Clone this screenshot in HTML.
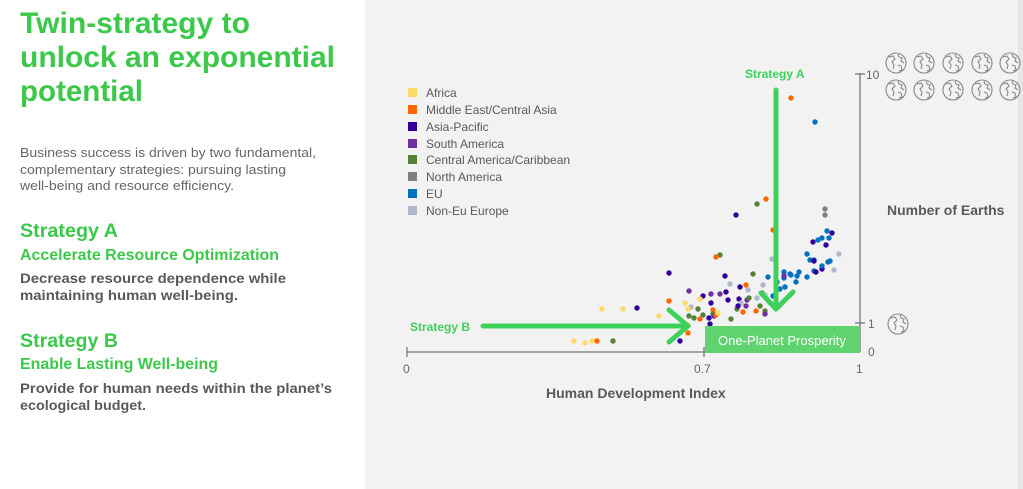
<!DOCTYPE html>
<html><head><meta charset="utf-8"><style>
html,body{margin:0;padding:0;background:#fff}
svg{display:block;font-family:"Liberation Sans",Arial,sans-serif}
</style></head><body>
<svg width="1023" height="489" viewBox="0 0 1023 489" xmlns="http://www.w3.org/2000/svg">
<rect x="0" y="0" width="1023" height="489" fill="#fff"/>
<rect x="365" y="0" width="658" height="489" fill="#f2f2f2"/>
<rect x="1018" y="0" width="5" height="489" fill="#e6e6e6"/>
<g fill="#3cc84a" font-weight="bold">
<text x="20" y="33" font-size="30" textLength="230" lengthAdjust="spacingAndGlyphs">Twin-strategy to</text>
<text x="20" y="67" font-size="30" textLength="315" lengthAdjust="spacingAndGlyphs">unlock an exponential</text>
<text x="20" y="101" font-size="30" textLength="123" lengthAdjust="spacingAndGlyphs">potential</text>
<text x="20" y="237" font-size="19" textLength="98" lengthAdjust="spacingAndGlyphs">Strategy A</text>
<text x="20" y="260" font-size="15.5" textLength="259" lengthAdjust="spacingAndGlyphs">Accelerate Resource Optimization</text>
<text x="20" y="347" font-size="19" textLength="98" lengthAdjust="spacingAndGlyphs">Strategy B</text>
<text x="20" y="369" font-size="15.5" textLength="198" lengthAdjust="spacingAndGlyphs">Enable Lasting Well-being</text>
</g>
<g fill="#666" font-size="12.5">
<text x="20" y="157" textLength="296" lengthAdjust="spacingAndGlyphs">Business success is driven by two fundamental,</text>
<text x="20" y="174" textLength="266" lengthAdjust="spacingAndGlyphs">complementary strategies: pursuing lasting</text>
<text x="20" y="190" textLength="214" lengthAdjust="spacingAndGlyphs">well-being and resource efficiency.</text>
</g>
<g fill="#595959" font-size="14" font-weight="bold">
<text x="20" y="283" textLength="266" lengthAdjust="spacingAndGlyphs">Decrease resource dependence while</text>
<text x="20" y="300" textLength="218" lengthAdjust="spacingAndGlyphs">maintaining human well-being.</text>
<text x="20" y="393" textLength="312" lengthAdjust="spacingAndGlyphs">Provide for human needs within the planet’s</text>
<text x="20" y="410" textLength="126" lengthAdjust="spacingAndGlyphs">ecological budget.</text>
</g>
<!-- legend -->
<g font-size="12" fill="#595959">
<rect x="408" y="88" width="9" height="9" fill="#ffd966"/><text x="426" y="97">Africa</text>
<rect x="408" y="105" width="9" height="9" fill="#ff6600"/><text x="426" y="114">Middle East/Central Asia</text>
<rect x="408" y="122" width="9" height="9" fill="#330099"/><text x="426" y="131">Asia-Pacific</text>
<rect x="408" y="139" width="9" height="9" fill="#7030a0"/><text x="426" y="148">South America</text>
<rect x="408" y="155" width="9" height="9" fill="#548235"/><text x="426" y="164">Central America/Caribbean</text>
<rect x="408" y="172" width="9" height="9" fill="#808080"/><text x="426" y="181">North America</text>
<rect x="408" y="189" width="9" height="9" fill="#0070c0"/><text x="426" y="198">EU</text>
<rect x="408" y="206" width="9" height="9" fill="#adb9ca"/><text x="426" y="215">Non-Eu Europe</text>
</g>
<!-- axes -->
<g stroke="#777" stroke-width="1.3" fill="none">
<line x1="407" y1="352" x2="860" y2="352"/>
<line x1="407" y1="347" x2="407" y2="357"/>
<line x1="704" y1="347" x2="704" y2="357"/>
<line x1="860" y1="73" x2="860" y2="352"/>
<line x1="855" y1="74" x2="865" y2="74"/>
<line x1="855" y1="323" x2="865" y2="323"/>
</g>
<g fill="#666" font-size="12">
<text x="403" y="373">0</text>
<text x="694" y="373">0.7</text>
<text x="856" y="373">1</text>
<text x="866" y="79">10</text>
<text x="868" y="328">1</text>
<text x="868" y="356">0</text>
</g>
<text x="546" y="398" font-size="14" font-weight="bold" fill="#595959">Human Development Index</text>
<text x="887" y="215" font-size="14" font-weight="bold" fill="#595959">Number of Earths</text>
<!-- globes -->
<defs>
<g id="gl" fill="none" stroke="#888" stroke-width="1.1">
<circle cx="0" cy="0" r="10"/>
<path d="M-7,-6 L-3,-7 L-1,-4 L-4,-1 L-2,2 L-3,6 M2,-9 L3,-6 L6,-5 L5,-2 L8,0 M2,2 L5,3 L6,7 L3,8"/>
</g>
</defs>
<use href="#gl" x="896" y="63"/><use href="#gl" x="924" y="63"/><use href="#gl" x="953" y="63"/><use href="#gl" x="982" y="63"/><use href="#gl" x="1010" y="63"/>
<use href="#gl" x="896" y="90"/><use href="#gl" x="924" y="90"/><use href="#gl" x="953" y="90"/><use href="#gl" x="982" y="90"/><use href="#gl" x="1010" y="90"/>
<use href="#gl" x="898" y="324"/>
<!-- points -->
<g>
<circle cx="791" cy="98" r="2.7" fill="#ff6600"/>
<circle cx="815" cy="122" r="2.7" fill="#0070c0"/>
<circle cx="766" cy="199" r="2.7" fill="#ff6600"/>
<circle cx="757" cy="204" r="2.7" fill="#548235"/>
<circle cx="736" cy="215" r="2.7" fill="#330099"/>
<circle cx="773" cy="230" r="2.7" fill="#ff6600"/>
<circle cx="825" cy="209" r="2.7" fill="#808080"/>
<circle cx="825" cy="215" r="2.7" fill="#808080"/>
<circle cx="827" cy="231" r="2.7" fill="#0070c0"/>
<circle cx="832" cy="233" r="2.7" fill="#330099"/>
<circle cx="829" cy="238" r="2.7" fill="#0070c0"/>
<circle cx="813" cy="242" r="2.7" fill="#330099"/>
<circle cx="818" cy="240" r="2.7" fill="#0070c0"/>
<circle cx="822" cy="238" r="2.7" fill="#0070c0"/>
<circle cx="826" cy="245" r="2.7" fill="#330099"/>
<circle cx="807" cy="254" r="2.7" fill="#0070c0"/>
<circle cx="839" cy="254" r="2.7" fill="#adb9ca"/>
<circle cx="720" cy="255" r="2.7" fill="#548235"/>
<circle cx="716" cy="257" r="2.7" fill="#ff6600"/>
<circle cx="772" cy="259" r="2.7" fill="#adb9ca"/>
<circle cx="810" cy="260" r="2.7" fill="#0070c0"/>
<circle cx="814" cy="260" r="2.7" fill="#0070c0"/>
<circle cx="814" cy="261" r="2.7" fill="#330099"/>
<circle cx="830" cy="261" r="2.7" fill="#0070c0"/>
<circle cx="834" cy="270" r="2.7" fill="#adb9ca"/>
<circle cx="814" cy="271" r="2.7" fill="#0070c0"/>
<circle cx="816" cy="272" r="2.7" fill="#330099"/>
<circle cx="822" cy="269" r="2.7" fill="#330099"/>
<circle cx="822" cy="266" r="2.7" fill="#0070c0"/>
<circle cx="828" cy="262" r="2.7" fill="#0070c0"/>
<circle cx="807" cy="277" r="2.7" fill="#0070c0"/>
<circle cx="799" cy="272" r="2.7" fill="#0070c0"/>
<circle cx="791" cy="275" r="2.7" fill="#0070c0"/>
<circle cx="784" cy="272" r="2.7" fill="#0070c0"/>
<circle cx="768" cy="277" r="2.7" fill="#0070c0"/>
<circle cx="797" cy="276" r="2.7" fill="#0070c0"/>
<circle cx="784" cy="278" r="2.7" fill="#0070c0"/>
<circle cx="777" cy="282" r="2.7" fill="#0070c0"/>
<circle cx="785" cy="287" r="2.7" fill="#0070c0"/>
<circle cx="796" cy="282" r="2.7" fill="#0070c0"/>
<circle cx="784" cy="276" r="2.7" fill="#7030a0"/>
<circle cx="790" cy="274" r="2.7" fill="#0070c0"/>
<circle cx="780" cy="289" r="2.7" fill="#0070c0"/>
<circle cx="763" cy="285" r="2.7" fill="#adb9ca"/>
<circle cx="773" cy="296" r="2.7" fill="#0070c0"/>
<circle cx="762" cy="293" r="2.7" fill="#548235"/>
<circle cx="669" cy="273" r="2.7" fill="#330099"/>
<circle cx="753" cy="274" r="2.7" fill="#548235"/>
<circle cx="746" cy="285" r="2.7" fill="#ff6600"/>
<circle cx="740" cy="287" r="2.7" fill="#330099"/>
<circle cx="748" cy="290" r="2.7" fill="#adb9ca"/>
<circle cx="726" cy="292" r="2.7" fill="#330099"/>
<circle cx="720" cy="294" r="2.7" fill="#7030a0"/>
<circle cx="711" cy="294" r="2.7" fill="#7030a0"/>
<circle cx="689" cy="291" r="2.7" fill="#7030a0"/>
<circle cx="691" cy="307" r="2.7" fill="#adb9ca"/>
<circle cx="685" cy="303" r="2.7" fill="#ffd966"/>
<circle cx="728" cy="300" r="2.7" fill="#330099"/>
<circle cx="739" cy="299" r="2.7" fill="#330099"/>
<circle cx="747" cy="300" r="2.7" fill="#7030a0"/>
<circle cx="741" cy="303" r="2.7" fill="#adb9ca"/>
<circle cx="749" cy="298" r="2.7" fill="#548235"/>
<circle cx="737" cy="309" r="2.7" fill="#548235"/>
<circle cx="738" cy="306" r="2.7" fill="#330099"/>
<circle cx="743" cy="312" r="2.7" fill="#ff6600"/>
<circle cx="746" cy="306" r="2.7" fill="#7030a0"/>
<circle cx="756" cy="311" r="2.7" fill="#ff6600"/>
<circle cx="757" cy="298" r="2.7" fill="#adb9ca"/>
<circle cx="760" cy="306" r="2.7" fill="#548235"/>
<circle cx="765" cy="311" r="2.7" fill="#548235"/>
<circle cx="765" cy="295" r="2.7" fill="#adb9ca"/>
<circle cx="765" cy="314" r="2.7" fill="#7030a0"/>
<circle cx="731" cy="319" r="2.7" fill="#548235"/>
<circle cx="713" cy="310" r="2.7" fill="#ff6600"/>
<circle cx="713" cy="314" r="2.7" fill="#548235"/>
<circle cx="703" cy="315" r="2.7" fill="#548235"/>
<circle cx="709" cy="318" r="2.7" fill="#330099"/>
<circle cx="710" cy="324" r="2.7" fill="#330099"/>
<circle cx="714" cy="316" r="2.7" fill="#7030a0"/>
<circle cx="716" cy="315" r="2.7" fill="#ff6600"/>
<circle cx="718" cy="313" r="2.7" fill="#ffd966"/>
<circle cx="698" cy="309" r="2.7" fill="#548235"/>
<circle cx="689" cy="316" r="2.7" fill="#548235"/>
<circle cx="694" cy="318" r="2.7" fill="#548235"/>
<circle cx="700" cy="319" r="2.7" fill="#ff6600"/>
<circle cx="688" cy="309" r="2.7" fill="#ffd966"/>
<circle cx="688" cy="325" r="2.7" fill="#ffd966"/>
<circle cx="688" cy="333" r="2.7" fill="#ff6600"/>
<circle cx="680" cy="341" r="2.7" fill="#330099"/>
<circle cx="703" cy="296" r="2.7" fill="#330099"/>
<circle cx="711" cy="303" r="2.7" fill="#330099"/>
<circle cx="730" cy="284" r="2.7" fill="#adb9ca"/>
<circle cx="602" cy="309" r="2.7" fill="#ffd966"/>
<circle cx="623" cy="309" r="2.7" fill="#ffd966"/>
<circle cx="637" cy="308" r="2.7" fill="#330099"/>
<circle cx="659" cy="316" r="2.7" fill="#ffd966"/>
<circle cx="574" cy="341" r="2.7" fill="#ffd966"/>
<circle cx="585" cy="343" r="2.7" fill="#ffd966"/>
<circle cx="592" cy="341" r="2.7" fill="#ffd966"/>
<circle cx="597" cy="341" r="2.7" fill="#ff6600"/>
<circle cx="613" cy="341" r="2.7" fill="#548235"/>
<circle cx="669" cy="301" r="2.7" fill="#ff6600"/>
<circle cx="700" cy="299" r="2.7" fill="#ffd966"/>
<circle cx="725" cy="276" r="2.7" fill="#330099"/>
</g>
<!-- arrows -->
<g stroke="#3dd15b" stroke-width="5" fill="none" stroke-linecap="round" stroke-linejoin="round">
<line x1="776" y1="90" x2="776" y2="308"/>
<polyline points="761,293 776,309 793,292"/>
<line x1="483" y1="326" x2="688" y2="326"/>
<polyline points="669,310 688,326 669,342"/>
</g>
<text x="745" y="78" font-size="12" font-weight="bold" fill="#3dd15b">Strategy A</text>
<text x="410" y="331" font-size="12" font-weight="bold" fill="#3dd15b">Strategy B</text>
<rect x="705" y="326" width="155" height="27" fill="#5fd36e"/>
<text x="718" y="345" font-size="13" fill="#fff">One-Planet Prosperity</text>
</svg>
</body></html>
